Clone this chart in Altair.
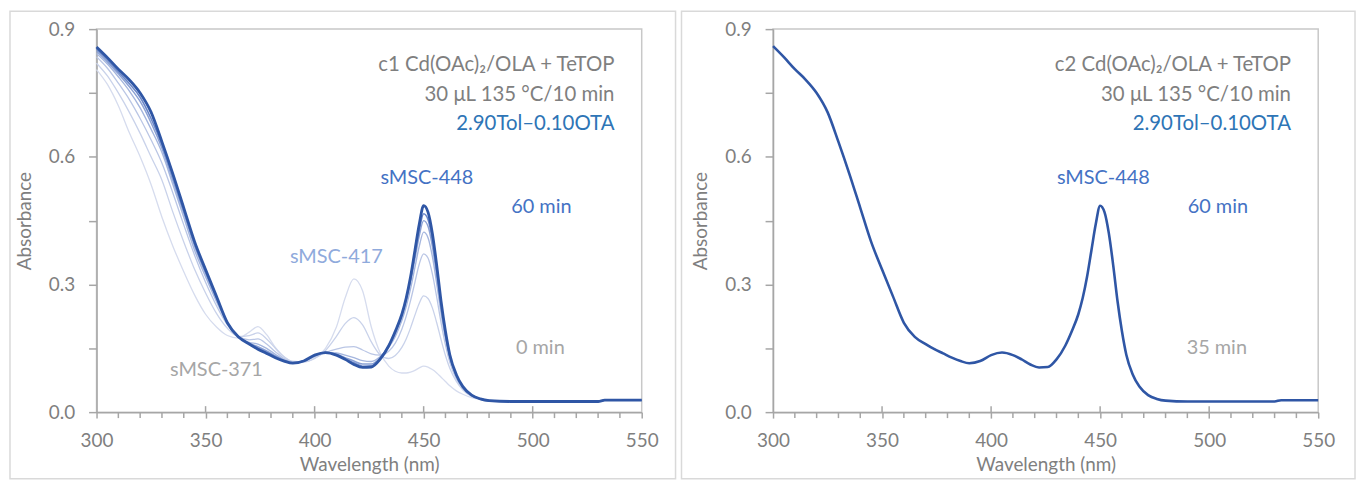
import altair as alt
import pandas as pd

# ---------------- data ----------------
wavelengths = [300, 305, 310, 315, 320, 325, 330, 335, 340, 345, 350, 355, 360, 365,
               370, 374, 378, 382, 386, 390, 395, 400, 405, 410, 414, 418, 422, 426,
               430, 434, 437, 440, 442, 444, 446, 448, 450, 452, 454, 456, 458, 460,
               462, 465, 468, 472, 476, 480, 490, 500, 510, 520, 530, 533, 540, 550]

c1_t0 = [0.805, 0.770, 0.720, 0.657, 0.600, 0.535, 0.458, 0.390, 0.330, 0.275, 0.230, 0.200, 0.180, 0.174,
         0.188, 0.201, 0.182, 0.152, 0.130, 0.119, 0.118, 0.126, 0.150, 0.200, 0.268, 0.313, 0.285, 0.200,
         0.140, 0.108, 0.096, 0.092, 0.092, 0.094, 0.098, 0.104, 0.108, 0.106, 0.100, 0.092, 0.082, 0.072,
         0.062, 0.050, 0.042, 0.034, 0.030, 0.027, 0.025, 0.025, 0.025, 0.025, 0.025, 0.028, 0.028, 0.028]
c1_t1 = [0.820, 0.790, 0.750, 0.705, 0.655, 0.600, 0.545, 0.470, 0.400, 0.335, 0.280, 0.232, 0.197, 0.178,
         0.180, 0.186, 0.172, 0.150, 0.130, 0.119, 0.118, 0.126, 0.145, 0.178, 0.208, 0.222, 0.205, 0.165,
         0.135, 0.126, 0.133, 0.152, 0.172, 0.198, 0.228, 0.256, 0.273, 0.267, 0.245, 0.210, 0.170, 0.133,
         0.103, 0.072, 0.052, 0.037, 0.031, 0.027, 0.025, 0.025, 0.025, 0.025, 0.025, 0.028, 0.028, 0.028]
c1_t2 = [0.835, 0.808, 0.773, 0.735, 0.690, 0.640, 0.585, 0.515, 0.440, 0.368, 0.305, 0.250, 0.205, 0.178,
         0.170, 0.172, 0.160, 0.142, 0.126, 0.118, 0.120, 0.130, 0.140, 0.148, 0.153, 0.154, 0.146, 0.137,
         0.134, 0.143, 0.162, 0.195, 0.225, 0.262, 0.305, 0.348, 0.372, 0.362, 0.325, 0.270, 0.210, 0.158,
         0.117, 0.078, 0.055, 0.038, 0.031, 0.027, 0.025, 0.025, 0.025, 0.025, 0.025, 0.028, 0.028, 0.028]
c1_t3 = [0.843, 0.818, 0.788, 0.755, 0.715, 0.665, 0.610, 0.535, 0.458, 0.380, 0.318, 0.260, 0.208, 0.177,
         0.164, 0.160, 0.150, 0.136, 0.123, 0.117, 0.120, 0.132, 0.140, 0.139, 0.134, 0.128, 0.121, 0.119,
         0.130, 0.152, 0.178, 0.215, 0.248, 0.290, 0.340, 0.390, 0.423, 0.410, 0.366, 0.302, 0.232, 0.172,
         0.126, 0.083, 0.057, 0.039, 0.031, 0.027, 0.025, 0.025, 0.025, 0.025, 0.025, 0.028, 0.028, 0.028]
c1_t4 = [0.848, 0.823, 0.795, 0.765, 0.730, 0.680, 0.620, 0.545, 0.468, 0.390, 0.326, 0.266, 0.210, 0.177,
         0.162, 0.154, 0.144, 0.132, 0.122, 0.116, 0.120, 0.133, 0.140, 0.136, 0.128, 0.120, 0.113, 0.113,
         0.127, 0.155, 0.185, 0.225, 0.262, 0.306, 0.360, 0.415, 0.450, 0.437, 0.390, 0.320, 0.245, 0.180,
         0.130, 0.085, 0.058, 0.040, 0.031, 0.027, 0.025, 0.025, 0.025, 0.025, 0.025, 0.028, 0.028, 0.028]
c1_t5 = [0.853, 0.828, 0.800, 0.772, 0.740, 0.690, 0.628, 0.553, 0.474, 0.395, 0.330, 0.270, 0.210, 0.177,
         0.161, 0.151, 0.141, 0.130, 0.121, 0.115, 0.120, 0.133, 0.140, 0.135, 0.126, 0.116, 0.108, 0.109,
         0.126, 0.156, 0.188, 0.228, 0.265, 0.313, 0.372, 0.428, 0.466, 0.453, 0.405, 0.333, 0.252, 0.185,
         0.132, 0.087, 0.059, 0.040, 0.031, 0.027, 0.025, 0.025, 0.025, 0.025, 0.025, 0.028, 0.028, 0.028]
c1_t60 = [0.858, 0.833, 0.806, 0.781, 0.750, 0.705, 0.635, 0.560, 0.480, 0.400, 0.335, 0.272, 0.210, 0.177,
          0.160, 0.148, 0.138, 0.128, 0.120, 0.115, 0.120, 0.134, 0.140, 0.134, 0.124, 0.112, 0.105, 0.106,
          0.124, 0.156, 0.190, 0.230, 0.268, 0.318, 0.380, 0.442, 0.485, 0.470, 0.420, 0.345, 0.260, 0.190,
          0.135, 0.088, 0.060, 0.040, 0.031, 0.027, 0.025, 0.025, 0.025, 0.025, 0.025, 0.028, 0.028, 0.028]

c2_t60 = [0.860, 0.834, 0.806, 0.781, 0.750, 0.705, 0.635, 0.560, 0.480, 0.400, 0.335, 0.272, 0.210, 0.177,
          0.160, 0.148, 0.138, 0.128, 0.120, 0.115, 0.120, 0.134, 0.140, 0.134, 0.124, 0.112, 0.105, 0.106,
          0.124, 0.156, 0.190, 0.230, 0.268, 0.318, 0.380, 0.442, 0.485, 0.470, 0.420, 0.345, 0.260, 0.190,
          0.135, 0.088, 0.060, 0.040, 0.031, 0.027, 0.025, 0.025, 0.025, 0.025, 0.025, 0.028, 0.028, 0.028]

left_names = ["0 min", "t1", "t2", "t3", "t4", "t5", "60 min"]
left_series = [c1_t0, c1_t1, c1_t2, c1_t3, c1_t4, c1_t5, c1_t60]
left_colors = ["#d6dcee", "#c9d2ea", "#bac6e5", "#a5b6de", "#8ba1d4", "#6b87c8", "#2f56a5"]
left_widths = [1.3, 1.3, 1.3, 1.4, 1.5, 1.6, 2.8]

right_names = ["60 min"]
right_series = [c2_t60]
right_colors = ["#2f56a5"]
right_widths = [2.6]

x_major = [300, 350, 400, 450, 500, 550]
x_major_inner = [350, 400, 450, 500]
x_minor = [310, 320, 330, 340, 360, 370, 380, 390, 410, 420, 430, 440,
           460, 470, 480, 490, 510, 520, 530, 540]
y_ticks = [0, 0.15, 0.3, 0.45, 0.6, 0.75, 0.9]

left_title = ["c1 Cd(OAc)\u2082/OLA + TeTOP", "30 \u03bcL 135 \u00b0C/10 min", "2.90Tol\u20130.10OTA"]
right_title = ["c2 Cd(OAc)\u2082/OLA + TeTOP", "30 \u03bcL 135 \u00b0C/10 min", "2.90Tol\u20130.10OTA"]
title_colors = ["#7f7f7f", "#7f7f7f", "#2e75b6"]
title_x = [537.5, 537.5, 537.5]
title_y = [0.816, 0.746, 0.678]

left_labels = ["sMSC-448", "60 min", "sMSC-417", "sMSC-371", "0 min"]
left_label_x = [451.5, 504, 410, 355, 503.5]
left_label_y = [0.549, 0.482, 0.365, 0.098, 0.150]
left_label_colors = ["#4472c4", "#4472c4", "#8faadc", "#a6a6a6", "#a6a6a6"]

right_labels = ["sMSC-448", "60 min", "35 min"]
right_label_x = [451.5, 504, 503.5]
right_label_y = [0.549, 0.482, 0.150]
right_label_colors = ["#4472c4", "#4472c4", "#a6a6a6"]

W, H = 548, 385
FONT = "Lato"
AXIS_GRAY = "#a6a6a6"
TEXT_GRAY = "#7f7f7f"


def panel(names, series, colors, widths, titles, labels, lx, ly, lcolors, frame_x, frame_x2):
    rows = []
    for i, (n, vals) in enumerate(zip(names, series)):
        for w, a in zip(wavelengths, vals):
            rows.append({"wl": w, "abs": a, "series": n, "order": i,
                         "c": colors[i], "w": widths[i]})
    df = pd.DataFrame(rows)

    xscale = alt.Scale(domain=[300, 550], nice=False, zero=False)
    yscale = alt.Scale(domain=[0, 0.9], nice=False)

    lines = alt.Chart(df).mark_line(interpolate="monotone").encode(
        x=alt.X("wl:Q", scale=xscale,
                axis=alt.Axis(values=x_major, title="Wavelength (nm)", format="d",
                              labelOverlap=False, labelFlush=False,
                              tickSize=6, labelPadding=14, titlePadding=5, grid=False)),
        y=alt.Y("abs:Q", scale=yscale,
                axis=alt.Axis(values=y_ticks, title="Absorbance", format=".1f",
                              labelExpr="abs(datum.value/0.3 - round(datum.value/0.3)) < 0.01 ? format(datum.value, '.1f') : ''",
                              labelOverlap=False, labelFlush=False,
                              tickSize=8, labelPadding=14, titlePadding=14, grid=False)),
        detail="series:N",
        color=alt.Color("c:N", scale=None),
        strokeWidth=alt.StrokeWidth("w:Q", scale=None),
        order=alt.Order("wl:Q"),
    )

    major = alt.Chart(pd.DataFrame({"t": x_major_inner})).mark_rule(
        color=AXIS_GRAY, strokeWidth=1.5).encode(
        x=alt.X("t:Q", scale=xscale), y=alt.value(H - 6), y2=alt.value(H))

    minor = alt.Chart(pd.DataFrame({"t": x_minor})).mark_rule(
        color=AXIS_GRAY, strokeWidth=1.5).encode(
        x=alt.X("t:Q", scale=xscale), y=alt.value(H), y2=alt.value(H + 6))

    tdf = pd.DataFrame({"x": title_x, "y": title_y, "text": titles, "c": title_colors})
    ttext = alt.Chart(tdf).mark_text(align="right", baseline="middle", font=FONT, fontSize=20.5).encode(
        x=alt.X("x:Q", scale=xscale), y=alt.Y("y:Q", scale=yscale),
        text="text:N", color=alt.Color("c:N", scale=None))

    ldf = pd.DataFrame({"x": lx, "y": ly, "text": labels, "c": lcolors})
    ltext = alt.Chart(ldf).mark_text(align="center", baseline="middle", font=FONT, fontSize=20).encode(
        x=alt.X("x:Q", scale=xscale), y=alt.Y("y:Q", scale=yscale),
        text="text:N", color=alt.Color("c:N", scale=None))

    frame = alt.Chart(alt.Data(values=[{}])).mark_rect(
        fill="transparent", stroke="#d9d9d9", strokeWidth=1.5).encode(
        x=alt.value(frame_x), x2=alt.value(frame_x2), y=alt.value(-18), y2=alt.value(H + 67))

    return alt.layer(frame, lines, major, minor, ttext, ltext).properties(width=W, height=H)


left = panel(left_names, left_series, left_colors, left_widths, left_title,
             left_labels, left_label_x, left_label_y, left_label_colors, -87, W + 34)
right = panel(right_names, right_series, right_colors, right_widths, right_title,
              right_labels, right_label_x, right_label_y, right_label_colors, -92, W + 37)

chart = alt.hconcat(left, right, spacing=132, bounds="flush").properties(
    padding={"left": 0, "top": 0, "right": 0, "bottom": 0}
).configure(background="white").configure_view(
    stroke="#c8c8c8", strokeWidth=1.5
).configure_axis(
    domainColor=AXIS_GRAY, domainWidth=1.5, tickColor=AXIS_GRAY, tickWidth=1.5,
    labelColor=TEXT_GRAY, titleColor=TEXT_GRAY, labelFont=FONT, titleFont=FONT,
    labelFontSize=19, titleFontSize=19, titleFontWeight="normal"
)

chart.save("out.html", embed_options={"renderer": "svg", "actions": False})
